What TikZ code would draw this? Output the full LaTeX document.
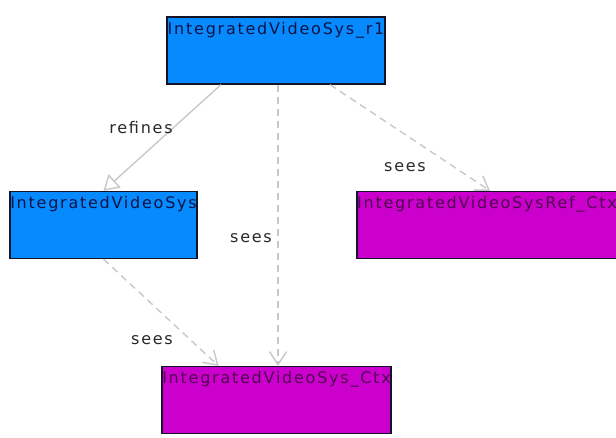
\documentclass[tikz,border=0pt]{standalone}
\usepackage{fontspec}
\setmainfont{DejaVu Sans}[LetterSpace=11]
\usetikzlibrary{arrows.meta}
\definecolor{boxblue}{RGB}{8,138,255}
\definecolor{boxmag}{RGB}{204,0,204}
\definecolor{txtblue}{RGB}{10,20,70}
\definecolor{txtmag}{RGB}{80,0,80}
\definecolor{edgegray}{RGB}{200,200,200}
\definecolor{lblgray}{RGB}{40,40,40}
\tikzset{
  x=1pt,y=1pt,
  mbox/.style={draw={rgb,255:red,20;green,20;blue,40}, line width=1.3pt, minimum height=67pt, inner sep=0pt},
  bluebox/.style={mbox, fill=boxblue},
  magbox/.style={mbox, fill=boxmag},
  boxtext/.style={font=\fontsize{16}{18}\selectfont, anchor=base, inner sep=0pt},
  lbl/.style={font=\fontsize{16}{18}\selectfont, text=lblgray, inner sep=0pt},
  seesedge/.style={draw=edgegray, line width=1.4pt, dash pattern=on 7pt off 5pt, -{Straight Barb[length=13pt,width=17pt,line width=1.4pt]}},
  refedge/.style={draw=edgegray, line width=1.4pt, -{Triangle[open,length=15pt,width=18pt,fill=white,line width=1.4pt]}},
}
\begin{document}
\begin{tikzpicture}
\useasboundingbox (0,0) rectangle (616,-437);
\node[bluebox, minimum width=218pt, path picture={\node[boxtext, text=txtblue] at ([yshift=-17pt]path picture bounding box.north) {IntegratedVideoSys\_r1};}] (r1) at (276,-50.5) {};
\node[bluebox, minimum width=187pt, path picture={\node[boxtext, text=txtblue] at ([yshift=-17pt]path picture bounding box.north) {IntegratedVideoSys};}] (ivs) at (103.5,-225) {};
\node[magbox, minimum width=262pt, path picture={\node[boxtext, text=txtmag] at ([yshift=-17pt,xshift=-1pt]path picture bounding box.north) {IntegratedVideoSysRef\_Ctx};}] (ref) at (488,-225) {};
\node[magbox, minimum width=229pt, path picture={\node[boxtext, text=txtmag] at ([yshift=-17pt]path picture bounding box.north) {IntegratedVideoSys\_Ctx};}] (ctx) at (276.5,-400) {};

\draw[refedge] ([xshift=-55pt]r1.south) -- (ivs.north);
\draw[seesedge] ([xshift=2pt]r1.south) -- ([xshift=1.5pt]ctx.north);
\draw[seesedge] ([xshift=54pt]r1.south) -- ([xshift=2pt]ref.north);
\draw[seesedge] (ivs.south) -- ([xshift=-58pt]ctx.north);

\node[lbl] (l1) at (141,-128) {refines};
\node[lbl] (l2) at (251,-238) {sees};
\node[lbl] (l3) at (405,-167) {sees};
\node[lbl] (l4) at (152,-340) {sees};
\end{tikzpicture}
\end{document}
